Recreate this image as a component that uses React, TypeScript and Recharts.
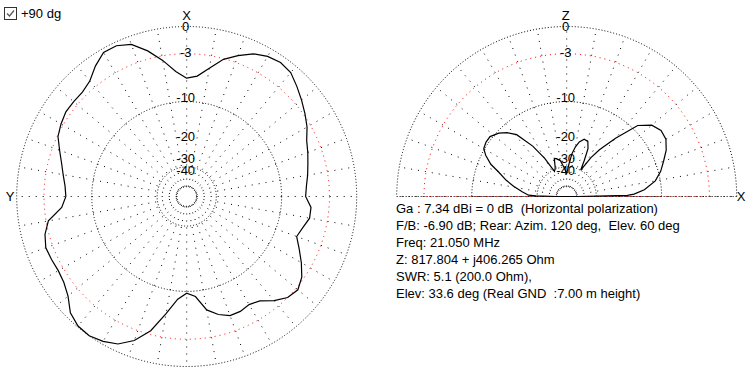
import React from "react"
import { RadarChart, Radar, PolarGrid, PolarAngleAxis, PolarRadiusAxis } from "recharts"

// horizontal pattern, azimuth counter-clockwise from X (top)
const azimuthDeg = [
  0, 5, 10, 15, 20, 25, 30, 35, 40, 45, 50, 55, 60, 65, 70, 75, 80, 85,
  90, 95, 100, 105, 110, 115, 120, 125, 130, 135, 140, 145, 150, 155, 160, 165, 170, 175,
  180, 185, 190, 195, 200, 205, 210, 215, 220, 225, 230, 235, 240, 245, 250, 255, 260, 265,
  270, 275, 280, 285, 290, 295, 300, 305, 310, 315, 320, 325, 330, 335, 340, 345, 350, 355,
]
const azimuthDb = [
  -6.7, -5.6, -3.8, -2.2, -0.9, -0.4, -0.4, -1.2, -2.2, -2.6, -2.6, -2.6, -2.9, -3.3, -4.2, -5.0, -5.6, -6.1,
  -6.3, -5.6, -3.5, -2.7, -2.3, -2.4, -2.5, -2.3, -1.7, -0.6, -0.1, 0, -0.3, -0.8, -1.9, -3.7, -6.6, -9.3,
  -10.5, -9.8, -7.2, -6.1, -5.4, -5.4, -5.7, -5.3, -4.1, -3.2, -2.9, -3.5, -4.6, -5.8, -6.9, -6.4, -5.7, -5.7,
  -6.6, -6.4, -6.0, -5.6, -5.1, -4.6, -3.7, -3.0, -2.3, -1.6, -0.9, -0.7, -0.9, -1.4, -2.3, -3.3, -4.9, -6.3,
]

// vertical pattern, elevation from +X (right) over Z to -X (left)
const elevationDeg = [
  0, 1, 2, 5, 10, 15, 20, 25, 30, 35, 40, 45, 50, 55, 58, 60, 62, 64, 66, 69, 73, 77, 80, 83, 86,
  90, 95, 100, 105, 108, 112, 116, 118, 120, 124, 129, 133, 137, 142, 146, 150, 153, 157, 160, 165,
  169, 174, 178, 179, 180,
]
const elevationDb = [
  -99, -19.7, -17.6, -14.7, -11.9, -10.4, -9.3, -8.1, -7.3, -7.2, -7.9, -9.8, -15.2, -21.0, -25.7, -31.0,
  -35.9, -28.7, -22.8, -20.3, -20.0, -21.4, -23.6, -27.1, -33.6,
  -42.9, -36.7, -31.0, -29.2, -28.7, -35.1, -37.6, -32.2, -26.6, -19.7, -14.3, -12.5, -11.3, -10.4, -10.4,
  -10.7, -11.7, -13.6, -16.0, -19.1, -22.1, -26.2, -29.8, -35.1, -99,
]

const dbTicks = [0, -3, -10, -20, -30, -40]
const blackRingsDb = [0, -10, -30, -49]
const redRingsDb = [-3]

const infoLines = [
  "Ga : 7.34 dBi = 0 dB  (Horizontal polarization)",
  "F/B: -6.90 dB; Rear: Azim. 120 deg,  Elev. 60 deg",
  "Freq: 21.050 MHz",
  "Z: 817.804 + j406.265 Ohm",
  "SWR: 5.1 (200.0 Ohm),",
  "Elev: 33.6 deg (Real GND  :7.00 m height)",
]

const R = 170
const INNER = 10
const FONT = "'Liberation Sans', Arial, sans-serif"

// MMANA style log scale
const toFrac = (db: number) => Math.pow(0.89, -db / 2)

const azData = azimuthDeg.map((a, i) => ({ angle: a, level: toFrac(azimuthDb[i]) }))
const elData = elevationDeg.map((a, i) => ({ angle: a, level: toFrac(elevationDb[i]) }))

const range = (from: number, to: number, step: number) => {
  const out: number[] = []
  for (let v = from; v <= to; v += step) out.push(v)
  return out
}

const DbTick = (props: any) => {
  const { x, y, index } = props
  return (
    <text x={x - 1} y={y + 4.5} textAnchor="middle" fontSize={13} fontFamily={FONT} fill="#000">
      {dbTicks[index]}
    </text>
  )
}

const makeNameTick = (names: Record<number, string>, offsets: Record<number, [number, number]>) => (props: any) => {
  const { x, y, payload } = props
  const v = payload.value
  const [dx, dy] = offsets[v] || [0, 0]
  return (
    <text x={x + dx} y={y + dy} textAnchor="middle" fontSize={13} fontFamily={FONT} fill="#000">
      {names[v]}
    </text>
  )
}

const leftNameTick = makeNameTick({ 0: "X", 90: "Y" }, { 0: [0, 1], 90: [1.5, 4.5] })
const rightNameTick = makeNameTick({ 0: "X", 90: "Z" }, { 0: [-3.5, 4], 90: [-1, 1] })

function Grid({ half }: { half?: boolean }) {
  const ringAngles = half ? range(0, 180, 1) : []
  const spokes = half ? range(0, 180, 10) : range(0, 350, 10)
  const gridType = half ? "polygon" : "circle"
  return (
    <>
      <PolarGrid
        gridType={gridType}
        polarAngles={spokes}
        polarRadius={[]}
        radialLines
        stroke="#000"
        strokeDasharray="1 6"
      />
      <PolarGrid
        gridType={gridType}
        polarAngles={ringAngles}
        polarRadius={blackRingsDb.map((d) => toFrac(d) * R)}
        radialLines={false}
        stroke="#000"
        fill="none"
        strokeDasharray="1 2"
      />
      <PolarGrid
        gridType={gridType}
        polarAngles={ringAngles}
        polarRadius={redRingsDb.map((d) => toFrac(d) * R)}
        radialLines={false}
        stroke="#ff0000"
        fill="none"
        strokeDasharray="1 4"
      />
    </>
  )
}

export default function App() {
  return (
    <div
      style={{
        position: "absolute",
        left: 0,
        top: 0,
        width: 752,
        height: 375,
        background: "#fff",
        fontFamily: FONT,
        fontSize: 13,
        color: "#000",
        overflow: "hidden",
      }}
    >
      <div style={{ position: "absolute", left: 0, top: 0 }}>
        <RadarChart
          width={376}
          height={375}
          data={azData}
          cx={186.7}
          cy={196.5}
          innerRadius={INNER}
          outerRadius={R}
          startAngle={90}
          endAngle={450}
          margin={{ top: 0, right: 0, bottom: 0, left: 0 }}
        >
          <Grid />
          <PolarAngleAxis
            dataKey="angle"
            type="number"
            domain={[0, 360]}
            ticks={[0, 90]}
            tick={leftNameTick}
            axisLine={false}
            tickLine={false}
          />
          <PolarRadiusAxis
            type="number"
            angle={90}
            domain={[INNER / R, 1]}
            allowDataOverflow
            ticks={dbTicks.map(toFrac)}
            tick={DbTick}
            axisLine={false}
            tickLine={false}
          />
          <Radar dataKey="level" stroke="#000" strokeWidth={1.2} fill="none" fillOpacity={0} dot={false} isAnimationActive={false} />
        </RadarChart>
      </div>

      <div style={{ position: "absolute", left: 376, top: 0 }}>
        <RadarChart
          width={376}
          height={375}
          data={elData}
          cx={190.7}
          cy={196.5}
          innerRadius={INNER}
          outerRadius={R}
          startAngle={0}
          endAngle={180}
          margin={{ top: 0, right: 0, bottom: 0, left: 0 }}
        >
          <Grid half />
          <PolarAngleAxis
            dataKey="angle"
            type="number"
            domain={[0, 180]}
            ticks={[0, 90]}
            tick={rightNameTick}
            axisLine={false}
            tickLine={false}
          />
          <PolarRadiusAxis
            type="number"
            angle={90}
            domain={[INNER / R, 1]}
            allowDataOverflow
            ticks={dbTicks.map(toFrac)}
            tick={DbTick}
            axisLine={false}
            tickLine={false}
          />
          <Radar dataKey="level" stroke="#000" strokeWidth={1.2} fill="none" fillOpacity={0} dot={false} isAnimationActive={false} />
        </RadarChart>
      </div>

      <div style={{ position: "absolute", left: 4, top: 7, width: 11, height: 11, border: "1px solid #333", background: "#fff" }}>
        <svg width={11} height={11} style={{ display: "block" }}>
          <path d="M2 5.5 L4.5 8 L9 2.5" stroke="#555" strokeWidth={1.2} fill="none" />
        </svg>
      </div>
      <div style={{ position: "absolute", left: 21, top: 5, lineHeight: "17px" }}>+90 dg</div>

      <div style={{ position: "absolute", left: 396, top: 200, lineHeight: "17px", whiteSpace: "pre" }}>
        {infoLines.map((line) => (
          <div key={line}>{line}</div>
        ))}
      </div>
    </div>
  )
}
